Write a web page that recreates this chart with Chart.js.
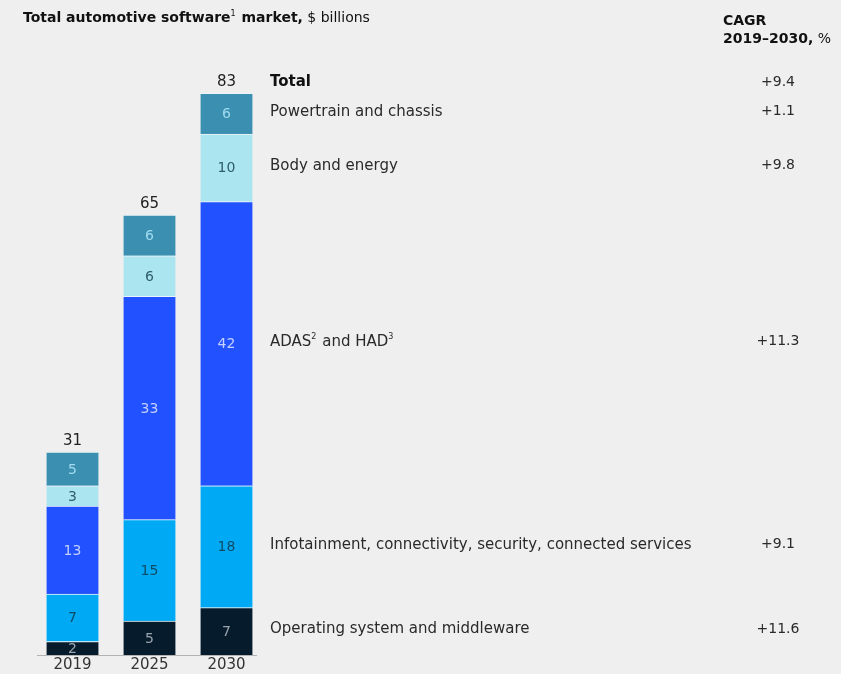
<!DOCTYPE html>
<html>
<head>
<meta charset="utf-8">
<script src="https://cdn.jsdelivr.net/npm/chart.js@4.4.1/dist/chart.umd.min.js"></script>
<style>
  html, body { margin: 0; padding: 0; background: #efefef; }
  #wrap { width: 841px; height: 674px; position: relative; }
</style>
</head>
<body>
<div id="wrap"><canvas id="c" width="841" height="674"></canvas></div>
<script>
// Automotive software market by segment, $ billions
const years = ['2019', '2025', '2030'];
const osMiddleware = [2, 5, 7];
const infotainment = [7, 15, 18];
const adasHad = [13, 33, 42];
const bodyEnergy = [3, 6, 10];
const powertrainChassis = [5, 6, 6];
const totals = [31, 65, 83];

// CAGR 2019–2030, %
const cagrTotal = '+9.4';
const cagrSegments = ['+11.6', '+9.1', '+11.3', '+9.8', '+1.1']; // bottom to top

const FONT = '"DejaVu Sans", "Liberation Sans", Arial, sans-serif';

const segments = [
  { label: 'Operating system and middleware', data: osMiddleware, color: '#061b2c', text: '#9aa4ae',
    runs: [{ t: 'Operating system and middleware' }] },
  { label: 'Infotainment, connectivity, security, connected services', data: infotainment, color: '#00a9f4', text: '#0d4c68',
    runs: [{ t: 'Infotainment, connectivity, security, connected services' }] },
  { label: 'ADAS and HAD', data: adasHad, color: '#2251ff', text: '#c4d0ff',
    runs: [{ t: 'ADAS' }, { t: '2', sup: true }, { t: ' and HAD' }, { t: '3', sup: true }] },
  { label: 'Body and energy', data: bodyEnergy, color: '#abe5f0', text: '#2f5d6b',
    runs: [{ t: 'Body and energy' }] },
  { label: 'Powertrain and chassis', data: powertrainChassis, color: '#3b8fb1', text: '#a2dcef',
    runs: [{ t: 'Powertrain and chassis' }] }
];

// Draw a sequence of styled text pieces (bold / superscript) starting at x
function drawRuns(ctx, runs, x, y, size, color) {
  ctx.save();
  ctx.fillStyle = color;
  ctx.textBaseline = 'middle';
  ctx.textAlign = 'left';
  let cx = x;
  for (const r of runs) {
    const s = r.sup ? Math.round(size * 0.55) : size;
    ctx.font = (r.bold ? 'bold ' : '') + s + 'px ' + FONT;
    ctx.fillText(r.t, cx, r.sup ? y - size * 0.3 : y);
    cx += ctx.measureText(r.t).width + (r.sup ? 1 : 0);
  }
  ctx.restore();
}

function centerText(ctx, text, x, y, size, color) {
  ctx.save();
  ctx.font = size + 'px ' + FONT;
  ctx.fillStyle = color;
  ctx.textAlign = 'center';
  ctx.textBaseline = 'middle';
  ctx.fillText(text, x, y);
  ctx.restore();
}

const annotations = {
  id: 'annotations',
  beforeDraw(chart) {
    const { ctx } = chart;
    ctx.save();
    ctx.fillStyle = '#efefef';
    ctx.fillRect(0, 0, chart.width, chart.height);
    ctx.restore();
  },
  afterDatasetsDraw(chart) {
    const { ctx, chartArea } = chart;
    const last = years.length - 1;

    // baseline under the bars
    ctx.save();
    ctx.strokeStyle = '#b3b3b3';
    ctx.lineWidth = 1;
    ctx.beginPath();
    ctx.moveTo(37, Math.round(chartArea.bottom) + 0.5);
    ctx.lineTo(257, Math.round(chartArea.bottom) + 0.5);
    ctx.stroke();
    ctx.restore();

    // values inside each segment
    chart.data.datasets.forEach((ds, di) => {
      const meta = chart.getDatasetMeta(di);
      meta.data.forEach((bar, i) => {
        const mid = (bar.y + bar.base) / 2;
        centerText(ctx, String(ds.data[i]), bar.x, mid + 1, 14, segments[di].text);
      });
    });

    // totals above the bars
    const topMeta = chart.getDatasetMeta(chart.data.datasets.length - 1);
    topMeta.data.forEach((bar, i) => {
      centerText(ctx, String(totals[i]), bar.x, bar.y - 11, 15, '#222');
    });

    // series names and CAGR, aligned with the 2030 bar
    const lx = 270, cagrX = 778;
    segments.forEach((s, di) => {
      const bar = chart.getDatasetMeta(di).data[last];
      const mid = (bar.y + bar.base) / 2;
      drawRuns(ctx, s.runs, lx, mid - 2, 15, '#2a2a2a');
      centerText(ctx, cagrSegments[di], cagrX, mid - 2, 14, '#2a2a2a');
    });
    const topBar = topMeta.data[last];
    drawRuns(ctx, [{ t: 'Total', bold: true }], lx, topBar.y - 11, 15, '#111');
    centerText(ctx, cagrTotal, cagrX, topBar.y - 11, 14, '#2a2a2a');

    // headers
    drawRuns(ctx, [
      { t: 'Total automotive software', bold: true },
      { t: '1', sup: true },
      { t: ' market,', bold: true },
      { t: ' $ billions' }
    ], 23, 18, 14, '#111');
    drawRuns(ctx, [{ t: 'CAGR', bold: true }], 723, 21, 14, '#111');
    drawRuns(ctx, [{ t: '2019–2030,', bold: true }, { t: ' %' }], 723, 39, 14, '#111');
  }
};

new Chart(document.getElementById('c'), {
  type: 'bar',
  data: {
    labels: years,
    datasets: segments.map(s => ({
      label: s.label,
      data: s.data,
      backgroundColor: s.color,
      borderColor: 'rgba(235,245,250,0.9)',
      borderWidth: { top: 1, bottom: 0, left: 0, right: 0 },
      borderSkipped: false,
      barThickness: 52
    }))
  },
  options: {
    responsive: false,
    animation: false,
    devicePixelRatio: 1,
    layout: { padding: { left: 34, right: 576, top: 46, bottom: -2 } },
    plugins: { legend: { display: false }, tooltip: { enabled: false } },
    scales: {
      x: {
        stacked: true,
        grid: { display: false, drawTicks: false },
        border: { display: false },
        ticks: { color: '#333', font: { family: FONT, size: 15, lineHeight: 1 }, padding: 3 }
      },
      y: {
        stacked: true,
        display: false,
        min: 0,
        max: 90
      }
    }
  },
  plugins: [annotations]
});
</script>
</body>
</html>
